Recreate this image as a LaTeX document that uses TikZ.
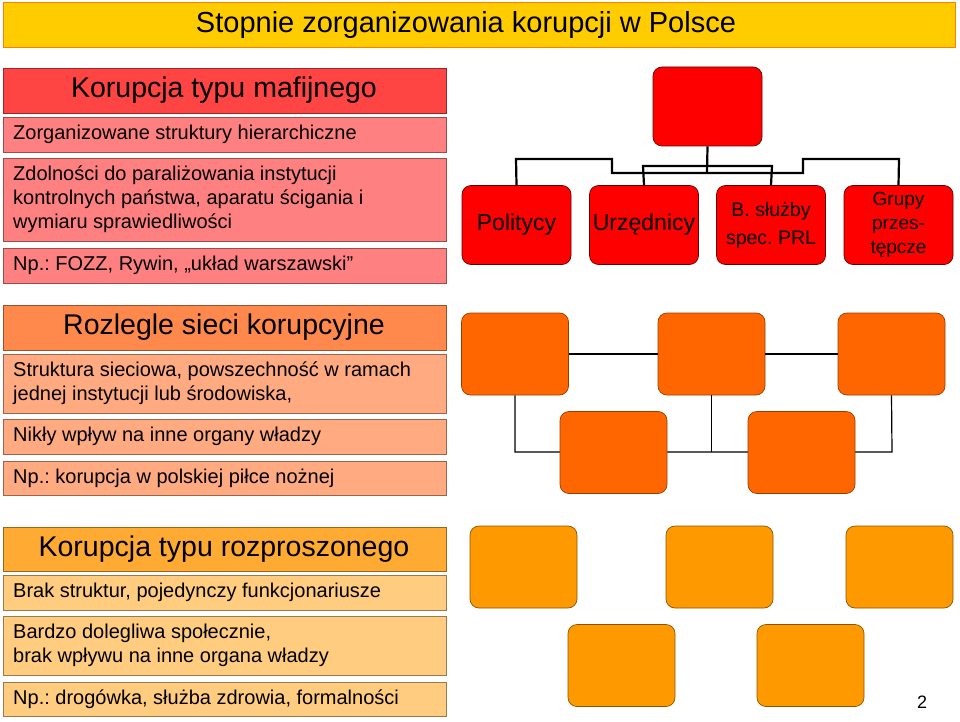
\documentclass[tikz,border=0pt]{standalone}
\usepackage{fontspec}
\setmainfont{Liberation Sans}
\frenchspacing
\begin{document}
\begin{tikzpicture}[x=1pt,y=-1pt,
  rbox/.style={rounded corners=9pt, draw=black!60!red, line width=0.7pt},
  con/.style={draw=black, line width=2.2pt},
  net/.style={draw=black, line width=1.2pt}]
\useasboundingbox (0,0) rectangle (960,722);
\definecolor{ttl}{HTML}{FFCC00}
\definecolor{h1}{HTML}{FF4444}\definecolor{s1}{HTML}{FF8080}
\definecolor{h2}{HTML}{FF884D}\definecolor{s2}{HTML}{FFAA80}
\definecolor{h3}{HTML}{FFAA33}\definecolor{s3}{HTML}{FFCC80}
\definecolor{ro}{HTML}{FF0000}\definecolor{o1}{HTML}{FF6600}\definecolor{o2}{HTML}{FF9900}
% title
\filldraw[fill=ttl, draw=orange, line width=0.8pt] (3,2) rectangle (955,47);
\node[font=\fontsize{29}{33}\selectfont] (title) at (466,25) {Stopnie zorganizowania korupcji w Polsce};
% left panels
\newcommand{\lpanel}[4]{%
  \filldraw[fill=#1, draw=#1!60!black, line width=0.8pt] (3,#2) rectangle (446,#3);
  \node[anchor=west, align=left, inner sep=0, font=\fontsize{20}{24}\selectfont] at (13,{(#2+#3)/2}) {#4};}
\newcommand{\lhead}[4]{%
  \filldraw[fill=#1, draw=#1!60!black, line width=0.8pt] (3,#2) rectangle (446,#3);
  \node[font=\fontsize{28.5}{32}\selectfont] at (224,{(#2+#3)/2}) {#4};}
\lhead{h1}{68}{113}{Korupcja typu mafijnego}
\lpanel{s1}{117}{152}{Zorganizowane struktury hierarchiczne}
\lpanel{s1}{158}{241}{Zdolności do paraliżowania instytucji\\kontrolnych państwa, aparatu ścigania i\\wymiaru sprawiedliwości}
\lpanel{s1}{248}{283}{Np.: FOZZ, Rywin, „układ warszawski”}
\lhead{h2}{305}{350}{Rozlegle sieci korupcyjne}
\lpanel{s2}{354}{413}{Struktura sieciowa, powszechność w ramach\\jednej instytucji lub środowiska,}
\lpanel{s2}{419}{454}{Nikły wpływ na inne organy władzy}
\lpanel{s2}{461}{495}{Np.: korupcja w polskiej piłce nożnej}
\lhead{h3}{527}{571}{Korupcja typu rozproszonego}
\lpanel{s3}{575}{610}{Brak struktur, pojedynczy funkcjonariusze}
\lpanel{s3}{616}{675}{Bardzo dolegliwa społecznie,\\brak wpływu na inne organa władzy}
\lpanel{s3}{682}{716}{Np.: drogówka, służba zdrowia, formalności}
% hierarchy
\tikzset{rb/.style={rbox, fill=ro, minimum width=109pt, minimum height=79pt, inner sep=1pt, align=center}}
\node[rb] (top) at (707.5,106.5) {};
\node[rb, font=\fontsize{23}{26}\selectfont] (pol) at (516.5,225) {Politycy};
\node[rb, font=\fontsize{23}{26}\selectfont] (urz) at (644,225) {Urzędnicy};
\node[rb, font=\fontsize{19.5}{28}\selectfont] (bsl) at (771,225) {B. służby\\spec. PRL};
\node[rb, font=\fontsize{19}{24}\selectfont] (gru) at (898.5,225) {Grupy\\przes-\\tępcze};
\coordinate (j) at (707,173);
\draw[con] (top.south) -- (j);
\draw[con] (j) -- (612,173) -- (612,159) -- (516,159) -- (pol.north);
\draw[con] (j) -- (803,173) -- (803,159) -- (899,159) -- (gru.north);
\draw[con] (urz.north) -- (643,166) -- (772,166) -- (bsl.north);
% network
\tikzset{ob/.style={rbox, fill=o1, draw=o1!60!black, minimum width=107pt, minimum height=82pt, inner sep=0}}
\node[ob] (na) at (515,354) {};
\node[ob] (nb) at (711.5,354) {};
\node[ob] (nc) at (891.5,354) {};
\coordinate (jl) at (515,452);
\coordinate (jm) at (711.5,452);
\coordinate (jr) at (892,452);
\draw[net] (na) -- (nb); \draw[net] (nb) -- (nc);
\draw[net] (na.south) -- (jl) -- (jm) -- (jr) -- (nc.south);
\draw[net] (nb.south) -- (jm);
\node[ob] (nd) at (613.5,452.5) {};
\node[ob] (ne) at (801.5,452.5) {};
% scattered
\tikzset{pb/.style={rbox, fill=o2, draw=o2!55!black, minimum width=107pt, minimum height=82pt, inner sep=0}}
\node[pb] (p1) at (523.5,567) {};
\node[pb] (p2) at (719.5,567) {};
\node[pb] (p3) at (899.5,567) {};
\node[pb] (p4) at (621.5,665.5) {};
\node[pb] (p5) at (810.5,665.5) {};
\node[font=\fontsize{18}{20}\selectfont] (pg) at (922,702) {2};
\end{tikzpicture}
\end{document}
